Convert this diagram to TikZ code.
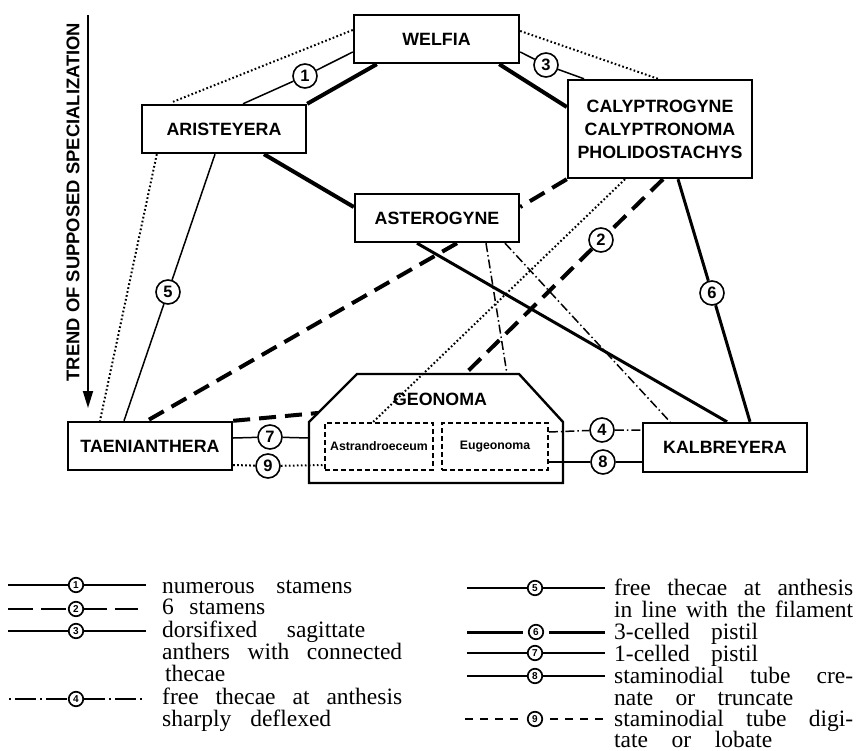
\documentclass[tikz,border=0pt]{standalone}
\usepackage{fontspec}
\setmainfont{Liberation Serif}
\newfontfamily\hv{Liberation Sans}
\usetikzlibrary{arrows.meta,calc}
\begin{document}
\begin{tikzpicture}[x=1pt,y=-1pt,
  box/.style={draw, line width=2.4pt, inner sep=0pt, align=center,
    font=\hv\bfseries\fontsize{17.8}{23}\selectfont},
  ibox/.style={draw, dash pattern=on 5pt off 3pt, line width=1.8pt, inner sep=0pt,
    minimum height=47pt, font=\hv\bfseries\fontsize{12.3}{14}\selectfont},
  num/.style={circle, draw, line width=1.6pt, fill=white, minimum size=24pt, inner sep=0pt,
    font=\hv\bfseries\fontsize{16.5}{17}\selectfont},
  lnum/.style={circle, draw, line width=1.7pt, fill=white, minimum size=14.5pt, inner sep=0pt,
    font=\hv\bfseries\fontsize{10}{10}\selectfont},
  thinl/.style={line width=1.5pt},
  medl/.style={line width=3pt},
  thickl/.style={line width=4pt},
  dashl/.style={line width=4pt, dash pattern=on 17pt off 9pt},
  dotl/.style={line width=2pt, dash pattern=on 1.7pt off 2.3pt},
  dashdotl/.style={line width=1.5pt, dash pattern=on 9pt off 3pt on 1.5pt off 3pt},
  legtext/.style={anchor=base west, inner sep=0pt, font=\fontsize{23.5}{24}\selectfont},
]
\useasboundingbox (0,0) rectangle (861,751);

% trend arrow
\coordinate (trA) at (88,15);
\coordinate (trB) at (88,408);
\draw[line width=1.8pt, -{Triangle[length=17pt,width=10pt]}] (trA) -- (trB);
\node[rotate=90, inner sep=0pt, font=\hv\bfseries\fontsize{18.4}{20}\selectfont] (trend) at (73,202)
  {TREND OF SUPPOSED SPECIALIZATION};

% boxes
\node[box, minimum width=165pt, minimum height=48pt] (welfia) at (436.5,39) {WELFIA};
\node[box, minimum width=164pt, minimum height=48pt] (arist) at (224,129) {ARISTEYERA};
\node[box, minimum width=184pt, minimum height=98pt] (caly) at (660,129)
  {CALYPTROGYNE\\CALYPTRONOMA\\PHOLIDOSTACHYS};
\node[box, minimum width=164pt, minimum height=48pt] (aster) at (437,218) {ASTEROGYNE};
\node[box, minimum width=164pt, minimum height=48pt] (taen) at (150,446) {TAENIANTHERA};
\node[box, minimum width=164pt, minimum height=49pt] (kalb) at (725,447.5) {KALBREYERA};

% geonoma outline
\coordinate (g1) at (357,374);
\coordinate (g2) at (519,374);
\coordinate (g3) at (563,422);
\coordinate (g4) at (563,483);
\coordinate (g5) at (309,483);
\coordinate (g6) at (309,422);
\draw[line width=2.4pt, line join=miter] (g1) -- (g2) -- (g3) -- (g4) -- (g5) -- (g6) -- cycle;
\node[inner sep=0pt, font=\hv\bfseries\fontsize{17.8}{20}\selectfont] (geonoma) at (440,399) {GEONOMA};
\coordinate (gtopA) at (465,374);
\coordinate (gtopB) at (507,374);
\coordinate (gdiag) at (318,413);
\coordinate (gleft) at (309,438);

\node[ibox, minimum width=108pt] (astr) at (379,446.5) {Astrandroeceum};
\node[ibox, minimum width=106pt] (eug) at (495,446.5) {Eugeonoma};

% numbered circles
\node[num] (c1) at (305,76) {1};
\node[num] (c2) at (601,240) {2};
\node[num] (c3) at (546,65) {3};
\node[num] (c4) at (602,430) {4};
\node[num] (c5) at (168,292) {5};
\node[num] (c6) at (712,293) {6};
\node[num] (c7) at (270,437) {7};
\node[num] (c8) at (603,462) {8};
\node[num] (c9) at (268,466) {9};

% connectors
\draw[thinl] ($(welfia.west)+(0,13)$) -- (c1) -- ($(arist.north)+(19,0)$);
\draw[thickl] ($(welfia.south west)+(24,0)$) -- (arist.north east);
\draw[dotl] ($(welfia.west)+(0,-9)$) -- ($(arist.north)+(-51,-2)$);
\draw[thinl] ($(welfia.east)+(0,13)$) -- (c3) -- ($(caly.north)+(-76,0)$);
\draw[thickl] ($(welfia.south east)+(-21,0)$) -- ($(caly.west)+(0,-22)$);
\draw[dotl] ($(welfia.east)+(0,-8)$) -- ($(caly.north)+(-2,0)$);
\draw[thickl] ($(arist.south)+(40,0)$) -- ($(aster.west)+(0,-11)$);
\draw[thinl] ($(arist.south)+(-9,0)$) -- (c5) -- ($(taen.north)+(-26,0)$);
\draw[dotl] ($(arist.south west)+(16,0)$) -- ($(taen.north)+(-50,0)$);
\draw[dashl] (caly.south west) -- ($(aster.east)+(0,-11)$);
\draw[medl] ($(caly.south)+(18,0)$) -- (c6) -- ($(kalb.north)+(25,0)$);
\draw[dashl] ($(caly.south)+(3,0)$) -- (c2) -- (gtopA);
\draw[dotl] ($(caly.south)+(-35,0)$) -- ($(astr.north)+(-6,0)$);
\draw[dashl] ($(aster.south)+(20,0)$) -- ($(taen.north)+(-3,0)$);
\draw[dashl] (taen.north east) -- (gdiag);
\draw[medl] ($(aster.south)+(-20,0)$) -- ($(kalb.north)+(2,0)$);
\draw[dashdotl] ($(aster.south)+(49,0)$) -- (gtopB);
\draw[dashdotl] ($(aster.south)+(68,0)$) -- ($(kalb.north)+(-55,0)$);
\draw[dashdotl] ($(eug.east)+(0,-14.5)$) -- (c4) -- ($(kalb.west)+(0,-17.5)$);
\draw[thinl] ($(eug.east)+(0,15.5)$) -- (c8) -- ($(kalb.west)+(0,14.5)$);
\draw[thinl] ($(taen.east)+(0,-8)$) -- (c7) -- (gleft);
\draw[dotl] ($(taen.east)+(0,19)$) -- (c9) -- ($(astr.west)+(0,18.5)$);

% legend, left column
\coordinate (l1a) at (8,585);  \coordinate (l1b) at (146,585);
\node[lnum] (l1) at (76,585) {1};
\draw[line width=1.4pt] (l1a) -- (l1) -- (l1b);
\coordinate (l2a) at (8,609);  \coordinate (l2b) at (146,609);
\node[lnum] (l2) at (76,609) {2};
\draw[line width=2.4pt, dash pattern=on 25pt off 8pt] (l2a) -- (l2);
\draw[line width=2.4pt, dash pattern=on 23pt off 8pt] (l2) -- (l2b);
\coordinate (l3a) at (8,631);  \coordinate (l3b) at (146,631);
\node[lnum] (l3) at (76,631) {3};
\draw[line width=1.4pt] (l3a) -- (l3) -- (l3b);
\coordinate (l4a) at (9,699);  \coordinate (l4b) at (146,699);
\node[lnum] (l4) at (76,699) {4};
\draw[line width=1.6pt, dash pattern=on 2pt off 4pt on 21pt off 4pt] (l4a) -- (l4);
\draw[line width=1.6pt, dash pattern=on 21pt off 4pt on 2pt off 4pt] (l4) -- (l4b);

\node[legtext] (t1) at (162,593) {\makebox[190pt][s]{numerous stamens}};
\node[legtext] (t2) at (162,614) {\makebox[103pt][s]{6 stamens}};
\node[legtext] (t3a) at (162,637) {\makebox[203pt][s]{dorsifixed sagittate}};
\node[legtext] (t3b) at (162,659) {\makebox[240pt][s]{anthers with connected}};
\node[legtext] (t3c) at (165,681) {thecae};
\node[legtext] (t4a) at (162,704) {\makebox[240pt][s]{free thecae at anthesis}};
\node[legtext] (t4b) at (162,726) {\makebox[169pt][s]{sharply deflexed}};

% legend, right column
\coordinate (l5a) at (467,588);  \coordinate (l5b) at (605,588);
\node[lnum] (l5) at (535,588) {5};
\draw[line width=1.4pt] (l5a) -- (l5) -- (l5b);
\coordinate (l6a) at (467,632);  \coordinate (l6b) at (605,632);
\node[lnum] (l6) at (536,632) {6};
\draw[line width=3pt] (l6a) -- ($(l6.west)+(-5,0)$);
\draw[line width=3pt] ($(l6.east)+(5,0)$) -- (l6b);
\coordinate (l7a) at (467,653);  \coordinate (l7b) at (605,653);
\node[lnum] (l7) at (535,653) {7};
\draw[line width=1.4pt] (l7a) -- (l7) -- (l7b);
\coordinate (l8a) at (467,676);  \coordinate (l8b) at (605,676);
\node[lnum] (l8) at (535,676) {8};
\draw[line width=1.4pt] (l8a) -- (l8) -- (l8b);
\coordinate (l9a) at (465,719);  \coordinate (l9b) at (605,719);
\node[lnum] (l9) at (535,719) {9};
\draw[line width=1.8pt, dash pattern=on 8pt off 7pt] (l9a) -- ($(l9.west)+(-6,0)$);
\draw[line width=1.8pt, dash pattern=on 8pt off 7pt] ($(l9.east)+(7,0)$) -- (l9b);

\node[legtext] (t5a) at (614,595) {\makebox[239pt][s]{free thecae at anthesis}};
\node[legtext] (t5b) at (614,617) {\makebox[239pt][s]{in line with the filament}};
\node[legtext] (t6) at (614,639) {\makebox[144pt][s]{3-celled pistil}};
\node[legtext] (t7) at (614,661) {\makebox[144pt][s]{1-celled pistil}};
\node[legtext] (t8a) at (614,683) {\makebox[239pt][s]{staminodial tube cre-}};
\node[legtext] (t8b) at (614,705) {\makebox[179pt][s]{nate or truncate}};
\node[legtext] (t9a) at (614,726) {\makebox[239pt][s]{staminodial tube digi-}};
\node[legtext] (t9b) at (614,747) {\makebox[158pt][s]{tate or lobate}};
\end{tikzpicture}
\end{document}
